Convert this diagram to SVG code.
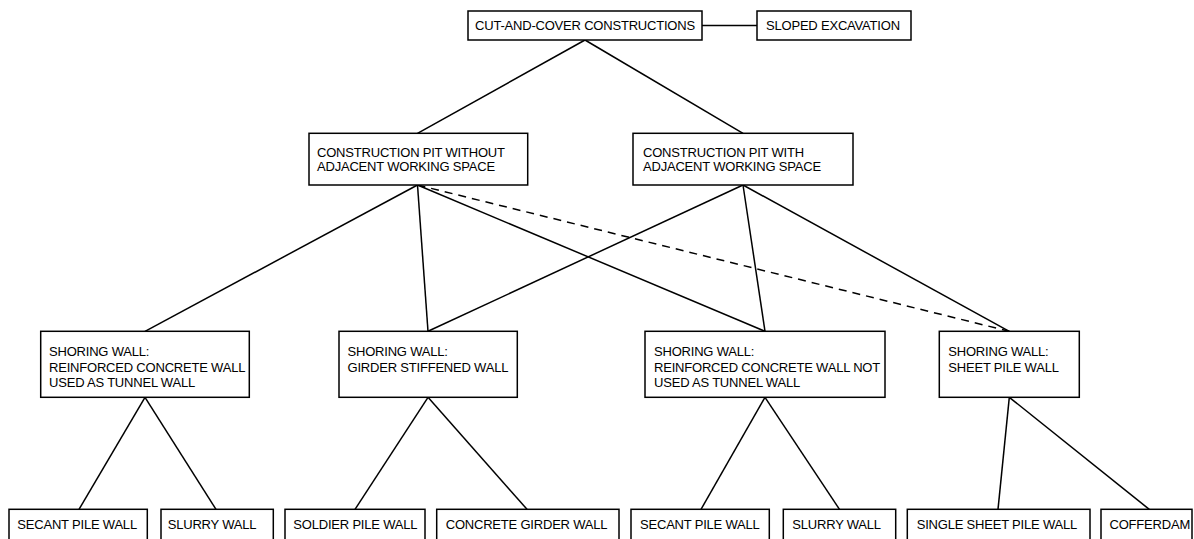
<svg xmlns="http://www.w3.org/2000/svg" width="1194" height="539" viewBox="0 0 1194 539">
<style>
  .box { fill: #ffffff; stroke: #000000; stroke-width: 1.5; }
  .t { font-family: "Liberation Sans", Arial, sans-serif; font-size: 13px; fill: #000000; letter-spacing: -0.2px; }
  .c line { stroke: #000000; stroke-width: 1.5; fill: none; }
  .c .dash { stroke-dasharray: 8 6; }
</style>
<rect width="1194" height="539" fill="#ffffff"/>
<g class="c" id="connectors">
  <line x1="585" y1="40" x2="417.5" y2="133.3"/>
  <line x1="585" y1="40" x2="743" y2="133.3"/>
  <line x1="702" y1="25.5" x2="757" y2="25.5"/>
  <line x1="417.5" y1="185" x2="145" y2="331.3"/>
  <line x1="417.5" y1="185" x2="428" y2="331.3"/>
  <line x1="417.5" y1="185" x2="765" y2="331.3"/>
  <line class="dash" x1="417.5" y1="185" x2="1009.3" y2="331.3"/>
  <line x1="743" y1="185" x2="428" y2="331.3"/>
  <line x1="743" y1="185" x2="765" y2="331.3"/>
  <line x1="743" y1="185" x2="1009.3" y2="331.3"/>
  <line x1="145" y1="397.3" x2="79" y2="509.3"/>
  <line x1="145" y1="397.3" x2="216" y2="509.3"/>
  <line x1="428" y1="397.3" x2="355" y2="509.3"/>
  <line x1="428" y1="397.3" x2="527" y2="509.3"/>
  <line x1="765" y1="397.3" x2="701" y2="509.3"/>
  <line x1="765" y1="397.3" x2="839.5" y2="509.3"/>
  <line x1="1009.3" y1="397.3" x2="998" y2="509.3"/>
  <line x1="1009.3" y1="397.3" x2="1149.3" y2="509.3"/>
</g>
<g id="cut-and-cover">
  <rect class="box" x="468" y="11" width="234" height="29"/>
  <text class="t" x="475" y="30">CUT-AND-COVER CONSTRUCTIONS</text>
</g>
<g id="sloped">
  <rect class="box" x="757" y="11" width="154" height="29"/>
  <text class="t" x="766" y="30">SLOPED EXCAVATION</text>
</g>
<g id="pit-without">
  <rect class="box" x="309" y="133.3" width="218.7" height="51.7"/>
  <text class="t" x="317" y="157.3">CONSTRUCTION PIT WITHOUT</text>
  <text class="t" x="317" y="171.3">ADJACENT WORKING SPACE</text>
</g>
<g id="pit-with">
  <rect class="box" x="633" y="133.3" width="220" height="51.7"/>
  <text class="t" x="643" y="157.3">CONSTRUCTION PIT WITH</text>
  <text class="t" x="643" y="171.3">ADJACENT WORKING SPACE</text>
</g>
<g id="shoring-rc-tunnel">
  <rect class="box" x="40.7" y="331.3" width="208.6" height="66"/>
  <text class="t" x="49" y="356">SHORING WALL:</text>
  <text class="t" x="49" y="371.7">REINFORCED CONCRETE WALL</text>
  <text class="t" x="49" y="387.3">USED AS TUNNEL WALL</text>
</g>
<g id="shoring-girder">
  <rect class="box" x="339" y="331.3" width="178.3" height="66"/>
  <text class="t" x="347.5" y="356">SHORING WALL:</text>
  <text class="t" x="347.5" y="371.7">GIRDER STIFFENED WALL</text>
</g>
<g id="shoring-rc-not-tunnel">
  <rect class="box" x="645" y="331.3" width="240" height="66"/>
  <text class="t" x="654" y="356">SHORING WALL:</text>
  <text class="t" x="654" y="371.7">REINFORCED CONCRETE WALL NOT</text>
  <text class="t" x="654" y="387.3">USED AS TUNNEL WALL</text>
</g>
<g id="shoring-sheet">
  <rect class="box" x="939.3" y="331.3" width="140" height="66"/>
  <text class="t" x="948.3" y="356">SHORING WALL:</text>
  <text class="t" x="948.3" y="371.7">SHEET PILE WALL</text>
</g>
<g id="secant-1">
  <rect class="box" x="9" y="509.3" width="138.3" height="40"/>
  <text class="t" x="17.3" y="529">SECANT PILE WALL</text>
</g>
<g id="slurry-1">
  <rect class="box" x="161" y="509.3" width="112.3" height="40"/>
  <text class="t" x="167.7" y="529">SLURRY WALL</text>
</g>
<g id="soldier">
  <rect class="box" x="285" y="509.3" width="140" height="40"/>
  <text class="t" x="293.3" y="529">SOLDIER PILE WALL</text>
</g>
<g id="concrete-girder">
  <rect class="box" x="436.7" y="509.3" width="182.3" height="40"/>
  <text class="t" x="445.7" y="529">CONCRETE GIRDER WALL</text>
</g>
<g id="secant-2">
  <rect class="box" x="631" y="509.3" width="138.3" height="40"/>
  <text class="t" x="640" y="529">SECANT PILE WALL</text>
</g>
<g id="slurry-2">
  <rect class="box" x="783.3" y="509.3" width="112.4" height="40"/>
  <text class="t" x="792.3" y="529">SLURRY WALL</text>
</g>
<g id="single-sheet">
  <rect class="box" x="907.3" y="509.3" width="182.7" height="40"/>
  <text class="t" x="916.7" y="529">SINGLE SHEET PILE WALL</text>
</g>
<g id="cofferdam">
  <rect class="box" x="1101" y="509.3" width="91" height="40"/>
  <text class="t" x="1109.5" y="529">COFFERDAM</text>
</g>
</svg>
